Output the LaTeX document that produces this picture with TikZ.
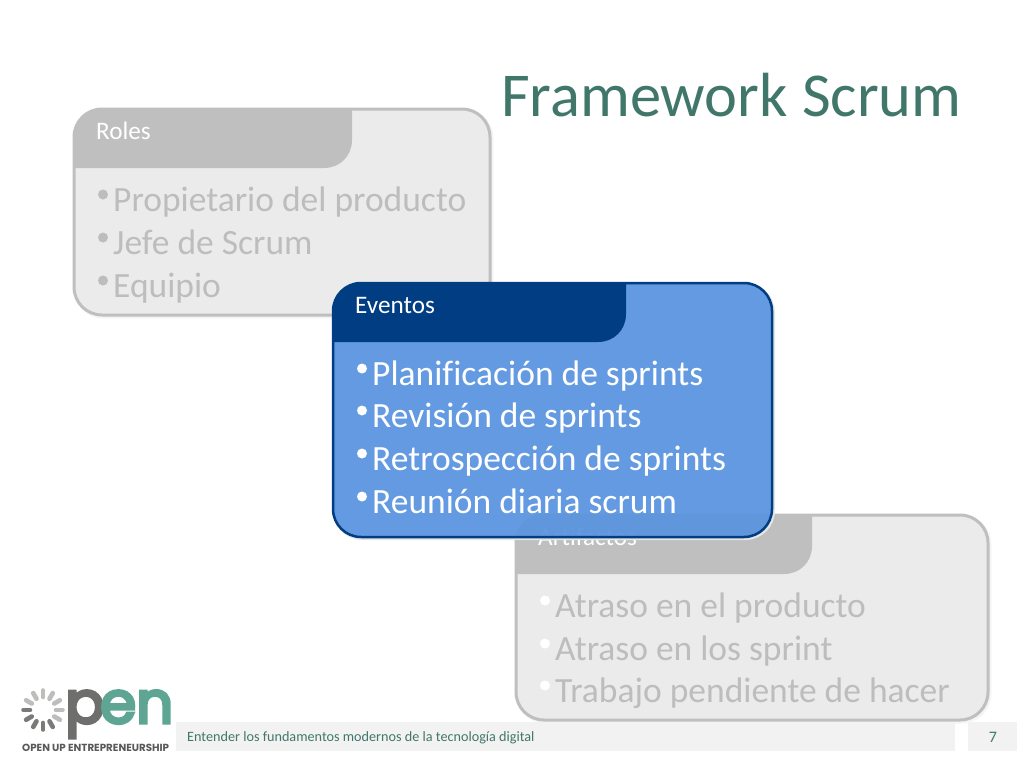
\documentclass[tikz,border=0pt]{standalone}
\usepackage{fontspec}
\usetikzlibrary{calc}
\setmainfont[Ligatures=NoCommon]{Carlito}
\newfontfamily\logofont[FakeBold=5.5]{Poppins}
\newfontfamily\tagfont{Poppins}
\definecolor{titlegreen}{HTML}{41776A}
\definecolor{greyborder}{HTML}{BFBFBF}
\definecolor{greyfill}{HTML}{EBEBEB}
\definecolor{greytext}{HTML}{BDBDBD}
\definecolor{bluefill}{HTML}{5893DF}
\definecolor{navy}{HTML}{003D82}
\definecolor{footfill}{HTML}{F2F2F2}
\definecolor{logogrey}{HTML}{6E6E6C}
\definecolor{logoteal}{HTML}{5FA593}
\definecolor{spokedark}{HTML}{7A7A78}
\definecolor{spokelight}{HTML}{BDBDBB}
\tikzset{
  x=1pt,y=-1pt,
  bodytext/.style={anchor=base west,inner sep=0pt,font=\fontsize{35.5}{35.5}\selectfont},
  bul/.style={circle,inner sep=0pt,minimum size=10pt},
  headtext/.style={anchor=base west,inner sep=0pt,text=white,font=\fontsize{25.2}{25.2}\selectfont},
  spoke/.style={line width=4.6pt,line cap=round},
}
\newcommand{\cardbody}[5]{%
  \draw[#5,rounded corners=28pt] (#1,#2) rectangle (#3,#4);
}
% left, top, right, bottom, colour
\newcommand{\cardtab}[5]{%
  \fill[#5] (#1,#4) -- (#1,#2+30) .. controls (#1,#2+13) and (#1+13,#2) .. (#1+30,#2) -- (#3,#2)
    -- (#3,#4-28) .. controls (#3,#4-12) and (#3-12,#4) .. (#3-28,#4) -- cycle;
}
\begin{document}
\begin{tikzpicture}
\useasboundingbox (0,0) rectangle (1024,768);
\fill[white] (0,0) rectangle (1024,768);

\node[anchor=base west,inner sep=0pt,text=titlegreen,font=\fontsize{62.4}{62.4}\selectfont] (title) at (501,116) {Framework Scrum};

% Roles
\draw[line width=4pt,black!4,rounded corners=28pt] (75.5,110.5) rectangle (491.5,316.5);
\cardbody{74}{109}{490}{315}{draw=greyborder,line width=3pt,fill=greyfill}
\cardtab{74}{109}{352}{168}{greyborder}
\node[headtext] (roles) at (96,139.5) {Roles};
\foreach \n/\y/\t in {a/211/Propietario del producto,b/254/Jefe de Scrum,c/297/Equipio}{
  \node[bul,fill=greytext] (rb\n) at (103,\y-16.5) {};
  \node[bodytext,text=greytext] (r\n) at (113,\y) {\t};
}

% Artifactos
\draw[line width=4pt,black!4,rounded corners=28pt] (517.5,516.5) rectangle (989.5,721.5);
\cardbody{516}{515}{988}{720}{draw=greyborder,line width=3pt,fill=greyfill}
\cardtab{516}{515}{812}{574}{greyborder}
\node[headtext] (artif) at (538,545.5) {Artifactos};
\foreach \n/\y/\t in {a/617/Atraso en el producto,b/660/Atraso en los sprint,c/702/Trabajo pendiente de hacer}{
  \node[bul,fill=white] (ab\n) at (545,\y-16.5) {};
  \node[bodytext,text=greytext] (a\n) at (555,\y) {\t};
}

% Eventos
\draw[line width=3pt,black!10,rounded corners=28pt] (334.5,284.5) rectangle (773.5,538.5);
\cardbody{333}{283}{772}{537}{draw=navy,line width=2.5pt,fill=bluefill,fill opacity=.93}
\cardtab{333}{283}{626}{342}{navy}
\node[headtext] (eventos) at (355,313.5) {Eventos};
\foreach \n/\y/\t in {a/385/Planificación de sprints,b/427/Revisión de sprints,c/470/Retrospección de sprints,d/513/Reunión diaria scrum}{
  \node[bul,fill=white] (eb\n) at (362,\y-16.5) {};
  \node[bodytext,text=white] (e\n) at (372,\y) {\t};
}

% Footer
\fill[footfill] (176,722) rectangle (955,751);
\fill[footfill] (968,722) rectangle (1017,751);
\node[anchor=base west,inner sep=0pt,text=titlegreen,font=\fontsize{14.2}{14.2}\selectfont] (foot) at (187,741) {Entender los fundamentos modernos de la tecnología digital};
\node[anchor=base,inner sep=0pt,text=titlegreen,font=\fontsize{16}{16}\selectfont] (page) at (993,742) {7};

% Logo
\foreach \a/\c in {90/spokedark,60/spokedark,30/spokelight,0/spokelight,-30/spokelight,-60/spokelight,-90/spokelight,-120/spokelight,-150/spokelight,180/spokedark,150/spokedark,120/spokedark}{
  \draw[spoke,\c] ($(43,710)+(\a:13)$) -- ($(43,710)+(\a:19.5)$);
}
\node[anchor=base west,inner sep=0pt,text=logogrey,font=\logofont\fontsize{58}{58}\selectfont] (logop) at (65,723) {p};
\node[anchor=base west,inner sep=0pt,text=logoteal,font=\logofont\fontsize{58}{58}\selectfont] (logoen) at (100,723) {en};
\node[anchor=base west,inner sep=0pt,text=black!65,font=\tagfont\bfseries\fontsize{10.3}{11}\selectfont] (logotag) at (22,751) {OPEN UP ENTREPRENEURSHIP};
\end{tikzpicture}
\end{document}
